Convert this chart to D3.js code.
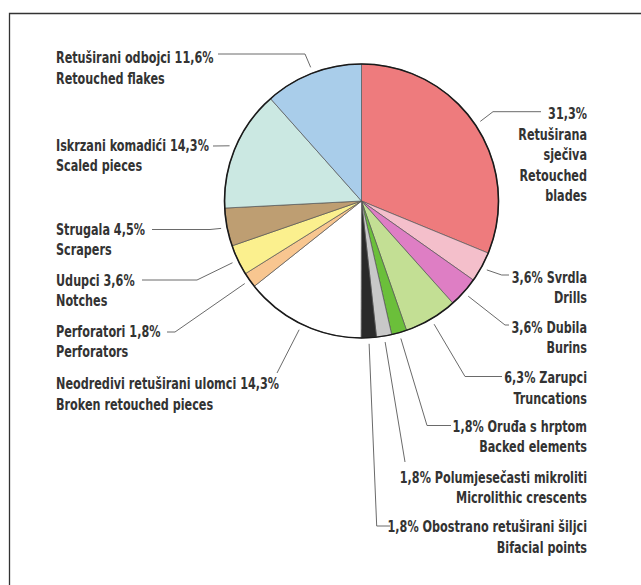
<!DOCTYPE html>
<html>
<head>
<meta charset="utf-8">
<script src="https://cdn.jsdelivr.net/npm/d3@7"></script>
<style>
  body { margin: 0; background: #fff; overflow: hidden; }
  svg { display: block; }
  .lbl { font-family: "Liberation Sans Narrow", "DejaVu Sans Condensed", sans-serif; font-weight: bold; font-size: 16px; fill: #333; }
</style>
</head>
<body>
<div id="chart"></div>
<script>
// udjeli alatki (%) - redom od vrha u smjeru kazaljke
var categories = ["Retouched blades", "Drills", "Burins", "Truncations", "Backed elements",
  "Microlithic crescents", "Bifacial points", "Broken retouched pieces", "Perforators",
  "Notches", "Scrapers", "Scaled pieces", "Retouched flakes"];
var values = [31.3, 3.6, 3.6, 6.3, 1.8, 1.8, 1.8, 14.3, 1.8, 3.6, 4.5, 14.3, 11.6];
var colors = ["#ee7b7d", "#f4bfcb", "#de7ec4", "#c3df94", "#6bbf3a", "#c8c8c8", "#2a2a2a",
  "#ffffff", "#f8c690", "#fbf08e", "#be9e72", "#cbe8e2", "#a9cdea"];
var labelLines = [
  ["31,3%", "Retuširana", "sječiva", "Retouched", "blades"],
  ["3,6% Svrdla", "Drills"],
  ["3,6% Dubila", "Burins"],
  ["6,3% Zarupci", "Truncations"],
  ["1,8% Oruđa s hrptom", "Backed elements"],
  ["1,8% Polumjesečasti mikroliti", "Microlithic crescents"],
  ["1,8% Obostrano retuširani šiljci", "Bifacial points"],
  ["Neodredivi retuširani ulomci 14,3%", "Broken retouched pieces"],
  ["Perforatori 1,8%", "Perforators"],
  ["Udupci 3,6%", "Notches"],
  ["Strugala 4,5%", "Scrapers"],
  ["Iskrzani komadići 14,3%", "Scaled pieces"],
  ["Retuširani odbojci 11,6%", "Retouched flakes"]
];

var width = 641;
var height = 585;
var cx = 361.5, cy = 201, radius = 137;
var lineH = 20.5;
var squeeze = 0.78; // font je preširok, stisni ga vodoravno

// raspored natpisa: sidro teksta i lomne tocke linije (nakon tocke uz rub)
var labelPos = [
  { x: 587, y: 113.5, anchor: "end", pts: [[493, 111.7], [541, 111.7]] },
  { x: 587, y: 277, anchor: "end", pts: [[501.7, 275], [509, 275]] },
  { x: 587, y: 327, anchor: "end", pts: [[505, 325], [509, 325]] },
  { x: 587, y: 377.5, anchor: "end", pts: [[465, 376.5], [502, 376.5]] },
  { x: 587, y: 426, anchor: "end", pts: [[427, 425.5], [451, 425.5]] },
  { x: 587, y: 477, anchor: "end", pts: [[405, 462]] },
  { x: 587, y: 526.5, anchor: "end", pts: [[376.7, 526], [390, 526]] },
  { x: 56, y: 383.5, anchor: "start", pts: [[277, 373]] },
  { x: 56, y: 331, anchor: "start", pts: [[175, 332], [167, 332]] },
  { x: 56, y: 280, anchor: "start", pts: [[197, 280], [142, 280]] },
  { x: 56, y: 229, anchor: "start", pts: [[210, 229.5], [152, 229.5]] },
  { x: 56, y: 145, anchor: "start", pts: [[213, 146]] },
  { x: 56, y: 57.5, anchor: "start", pts: [[305, 54], [218, 54]] }
];

var svg = d3.select("#chart").append("svg")
  .attr("width", width)
  .attr("height", height);

// okvir - vidi se samo gornji i lijevi rub
svg.append("path")
  .attr("d", "M9.5," + height + "V13.5H" + width)
  .attr("fill", "none")
  .attr("stroke", "#333")
  .attr("stroke-width", 1.3);

var pie = d3.pie().sort(null).value(d => d);
var arcs = pie(values);
var arc = d3.arc().innerRadius(0).outerRadius(radius);
var edgeArc = d3.arc().innerRadius(radius + 6).outerRadius(radius + 6);

var g = svg.append("g").attr("transform", "translate(" + cx + "," + cy + ")");

g.selectAll("path.slice")
  .data(arcs)
  .enter()
  .append("path")
  .attr("class", "slice")
  .attr("d", arc)
  .attr("fill", (d, i) => colors[i])
  .attr("stroke", "#555")
  .attr("stroke-width", 0.7);

// vanjski rub
g.append("circle")
  .attr("r", radius)
  .attr("fill", "none")
  .attr("stroke", "#1a1a1a")
  .attr("stroke-width", 1.6);

// linije do natpisa
var line = d3.line();
svg.selectAll("path.leader")
  .data(arcs)
  .enter()
  .append("path")
  .attr("class", "leader")
  .attr("d", (d, i) => {
    var c = edgeArc.centroid(d);
    var start = [cx + c[0], cy + c[1]];
    return line([start].concat(labelPos[i].pts));
  })
  .attr("fill", "none")
  .attr("stroke", "#6a6a6a")
  .attr("stroke-width", 1);

// natpisi
var labels = svg.selectAll("text.lbl")
  .data(labelLines)
  .enter()
  .append("text")
  .attr("class", "lbl")
  .attr("text-anchor", (d, i) => labelPos[i].anchor)
  .attr("transform", (d, i) => "translate(" + labelPos[i].x + ",0) scale(" + squeeze + ",1)");

labels.each(function (lines, i) {
  var t = d3.select(this);
  lines.forEach((s, k) => {
    t.append("tspan")
      .attr("x", 0)
      .attr("y", labelPos[i].y + k * lineH)
      .attr("dy", "0.35em")
      .text(s);
  });
});
</script>
</body>
</html>
